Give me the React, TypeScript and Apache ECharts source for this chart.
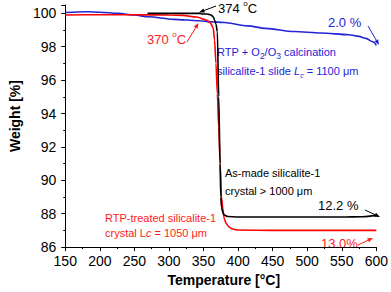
import React, { useEffect, useRef } from "react";
import * as echarts from "echarts";

// ---- data ----
const blackT = [269, 300, 345, 347, 355, 358, 361, 364, 366, 368, 370, 372, 374, 375, 376, 378, 380, 385, 400, 450, 500, 550, 580, 600];
const blackW = [100.0, 100.0, 100.0, 99.96, 99.96, 99.94, 99.9, 99.8, 99.6, 99.35, 98.9, 95, 91, 89, 88.4, 88.05, 87.92, 87.83, 87.8, 87.8, 87.8, 87.8, 87.82, 87.9];

const redT = [150, 200, 250, 300, 320, 340, 354, 360, 364, 366, 368, 370, 372, 374, 376, 378, 380, 383, 387, 391, 400, 450, 500, 550, 600];
const redW = [99.9, 99.92, 99.92, 99.9, 99.88, 99.78, 99.6, 99.43, 99.13, 98.4, 97.0, 95.2, 93.2, 91.0, 89.0, 88.3, 87.7, 87.4, 87.2, 87.1, 87.02, 87.0, 87.0, 87.0, 87.0];

const blueT = [150, 182, 200, 226, 250, 270, 307, 343, 360, 380, 414, 440, 481, 520, 560, 575, 585, 595, 600];
const blueW = [100.05, 100.1, 100.07, 100.0, 99.9, 99.8, 99.64, 99.56, 99.5, 99.45, 99.25, 99.1, 98.91, 98.82, 98.72, 98.62, 98.5, 98.3, 98.08];

const xTicks = { min: 150, max: 600, interval: 50 };
const yTicks = { min: 86, max: 100.5, interval: 2 };

const RED = "#ff1a1a";
const BLUE = "#2424d6";
const FONT = "'Liberation Sans', Arial, Helvetica, sans-serif";

function pairs(t: number[], w: number[]) {
  return t.map((v, i) => [v, w[i]]);
}

function arrow(x1: number, y1: number, x2: number, y2: number, color: string) {
  const a = Math.atan2(y2 - y1, x2 - x1);
  const L = 5.5, W = 2.2;
  const bx = x2 - L * Math.cos(a), by = y2 - L * Math.sin(a);
  const px = -Math.sin(a) * W, py = Math.cos(a) * W;
  return {
    type: "group",
    children: [
      { type: "line", shape: { x1, y1, x2: bx, y2: by }, style: { stroke: color, lineWidth: 1 } },
      { type: "polygon", shape: { points: [[x2, y2], [bx + px, by + py], [bx - px, by - py]] }, style: { fill: color } },
    ],
  };
}

function txt(x: number, y: number, text: string, color: string, size: number, rich?: any) {
  return {
    type: "text",
    x,
    y,
    style: {
      text,
      fill: color,
      font: `${size}px ${FONT}`,
      fontFamily: FONT,
      fontSize: size,
      textVerticalAlign: "middle",
      verticalAlign: "middle",
      rich,
    },
  };
}

export default function App() {
  const ref = useRef<HTMLDivElement>(null);
  useEffect(() => {
    if (!ref.current) return;
    const chart = echarts.init(ref.current, null, { renderer: "svg" });

    const mkRich = (color: string) => ({
      a: { fill: color, color, fontSize: 11, fontFamily: FONT, lineHeight: 14, verticalAlign: "top" },
      s: { fill: color, color, fontSize: 8.5, fontFamily: FONT, lineHeight: 9, verticalAlign: "bottom" },
      i: { fill: color, color, fontSize: 11, fontFamily: FONT, fontStyle: "italic", lineHeight: 14, verticalAlign: "top" },
      si: { fill: color, color, fontSize: 7, fontFamily: FONT, fontStyle: "italic", lineHeight: 8, verticalAlign: "bottom" },
      d: { fill: color, color, fontSize: 13, fontFamily: FONT, lineHeight: 16, verticalAlign: "bottom" },
      o: { fill: color, color, fontSize: 8, fontFamily: FONT, lineHeight: 16, verticalAlign: "top" },
    });

    const lineSeries = (name: string, data: number[][], color: string, z: number) => ({
      name,
      type: "line",
      data,
      smooth: 0.3,
      smoothMonotone: "x",
      showSymbol: false,
      lineStyle: { color, width: 1.6 },
      z,
    });

    chart.setOption({
      animation: false,
      backgroundColor: "#ffffff",
      grid: { left: 43, right: 13, top: 5, bottom: 42, containLabel: false },
      xAxis: {
        type: "value",
        min: xTicks.min,
        max: xTicks.max,
        interval: xTicks.interval,
        name: "Temperature [°C]",
        nameLocation: "middle",
        nameGap: 25,
        nameTextStyle: { fontFamily: FONT, fontSize: 14, fontWeight: "bold", color: "#000", padding: [0, 0, 0, 6] },
        axisLine: { lineStyle: { color: "#000", width: 1 } },
        axisTick: { show: true, inside: false, length: 4, lineStyle: { color: "#000" } },
        minorTick: { show: true, splitNumber: 2, length: 2, lineStyle: { color: "#000" } },
        splitLine: { show: false },
        axisLabel: { fontFamily: FONT, fontSize: 14, color: "#000", margin: 7 },
      },
      yAxis: {
        type: "value",
        min: yTicks.min,
        max: yTicks.max,
        interval: yTicks.interval,
        name: "Weight [%]",
        nameLocation: "middle",
        nameGap: 30,
        nameRotate: 90,
        nameTextStyle: { fontFamily: FONT, fontSize: 14, fontWeight: "bold", color: "#000", padding: [0, 0, 0, 20] },
        axisLine: { show: true, lineStyle: { color: "#000", width: 1 } },
        axisTick: { show: true, inside: false, length: 4, lineStyle: { color: "#000" } },
        minorTick: { show: true, splitNumber: 2, length: 2, lineStyle: { color: "#000" } },
        splitLine: { show: false },
        axisLabel: { fontFamily: FONT, fontSize: 14, color: "#000", margin: 9 },
      },
      series: [
        lineSeries("blue", pairs(blueT, blueW), BLUE, 2),
        lineSeries("red", pairs(redT, redW), "#ff0000", 3),
        lineSeries("black", pairs(blackT, blackW), "#000", 4),
      ],
      graphic: [
        txt(218, 7, "{d|374 }{o|o}{d|C}", "#000", 13, mkRich("#000")),
        arrow(216, 6, 199, 12.5, "#000"),
        txt(147, 38, "{d|370 }{o|o}{d|C}", RED, 13, mkRich(RED)),
        arrow(187, 42, 198.5, 23, RED),
        txt(328, 22, "2.0 %", BLUE, 13),
        arrow(368, 26, 379, 45, BLUE),
        txt(217, 53, "{a|RTP + O}{s|2}{a|/O}{s|3}{a| calcination}", BLUE, 11, mkRich(BLUE)),
        txt(217, 72, "{a|silicalite-1 slide }{i|L}{si|c}{a| = 1100 μm}", BLUE, 11, mkRich(BLUE)),
        txt(225, 173, "As-made silicalite-1", "#000", 11),
        txt(225, 191, "crystal > 1000 μm", "#000", 11),
        txt(318, 205, "12.2 %", "#000", 13),
        arrow(365, 210, 380, 217, "#000"),
        txt(105, 218, "RTP-treated silicalite-1", RED, 11),
        txt(105, 234, "{a|crystal L}{i|c}{a| = 1050 μm}", RED, 11, mkRich(RED)),
        txt(321, 243, "13.0%", RED, 13),
        arrow(358, 245, 373, 238, RED),
      ],
    });
    return () => chart.dispose();
  }, []);
  return (
    <div
      ref={ref}
      style={{ position: "fixed", left: 0, top: 0, width: 391, height: 292, background: "#fff" }}
    />
  );
}
